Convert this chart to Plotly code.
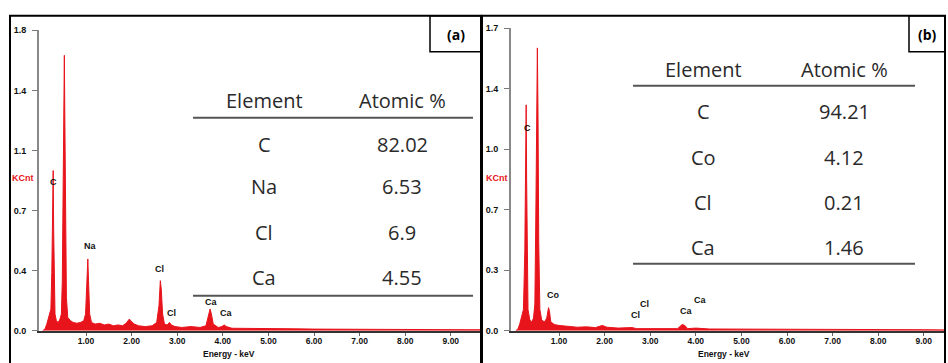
import plotly.graph_objects as go

# ---------------- data ----------------
# EDS spectrum (a): energy (keV) and intensity (KCnt)
energy_a = [0.05, 0.10, 0.14, 0.17, 0.20, 0.23, 0.25, 0.265, 0.28, 0.29, 0.30, 0.32, 0.35, 0.39,
            0.43, 0.46, 0.48, 0.50, 0.515, 0.525, 0.535, 0.55, 0.57, 0.60, 0.66, 0.72, 0.80, 0.88,
            0.95, 0.99, 1.02, 1.04, 1.055, 1.08, 1.12, 1.20, 1.30, 1.40, 1.50, 1.60, 1.70, 1.80,
            1.88, 1.95, 2.00, 2.06, 2.15, 2.30, 2.45, 2.55, 2.60, 2.63, 2.65, 2.68, 2.72, 2.78,
            2.83, 2.87, 2.95, 3.10, 3.30, 3.50, 3.63, 3.68, 3.72, 3.75, 3.79, 3.90, 3.98, 4.03,
            4.08, 4.20, 4.50, 5.00, 5.50, 6.00, 6.50, 7.00, 7.50, 8.00, 8.50, 9.00, 9.66]
counts_a = [0.0, 0.01, 0.04, 0.07, 0.09, 0.13, 0.35, 0.70, 0.96, 0.62, 0.30, 0.10, 0.06, 0.05,
            0.07, 0.10, 0.30, 0.85, 1.45, 1.65, 1.30, 0.60, 0.20, 0.08, 0.06, 0.05, 0.045, 0.05,
            0.06, 0.10, 0.30, 0.43, 0.30, 0.10, 0.05, 0.04, 0.045, 0.035, 0.04, 0.03, 0.035, 0.03,
            0.045, 0.07, 0.055, 0.04, 0.03, 0.025, 0.03, 0.05, 0.15, 0.30, 0.25, 0.10, 0.04, 0.035,
            0.05, 0.035, 0.025, 0.02, 0.025, 0.02, 0.03, 0.08, 0.13, 0.10, 0.04, 0.02, 0.025, 0.035,
            0.025, 0.015, 0.015, 0.012, 0.012, 0.01, 0.01, 0.01, 0.008, 0.008, 0.007, 0.007, 0.006]

# EDS spectrum (b)
energy_b = [0.05, 0.10, 0.14, 0.18, 0.22, 0.25, 0.265, 0.28, 0.29, 0.30, 0.32, 0.36, 0.40, 0.44,
            0.47, 0.49, 0.51, 0.525, 0.54, 0.555, 0.58, 0.62, 0.68, 0.73, 0.77, 0.79, 0.82, 0.90,
            1.00, 1.20, 1.40, 1.60, 1.80, 1.95, 2.05, 2.30, 2.60, 2.70, 3.00, 3.30, 3.60, 3.70,
            3.76, 3.82, 4.00, 4.30, 5.00, 6.00, 7.00, 8.00, 9.00, 9.46]
counts_b = [0.0, 0.01, 0.04, 0.08, 0.12, 0.45, 0.95, 1.27, 0.85, 0.40, 0.12, 0.06, 0.05, 0.07,
            0.15, 0.60, 1.20, 1.59, 1.20, 0.50, 0.12, 0.06, 0.05, 0.07, 0.13, 0.11, 0.05, 0.035,
            0.03, 0.025, 0.02, 0.022, 0.018, 0.03, 0.02, 0.015, 0.018, 0.012, 0.013, 0.01, 0.012, 0.035,
            0.03, 0.012, 0.015, 0.01, 0.01, 0.008, 0.01, 0.006, 0.006, 0.005]

# Peak labels: (text, energy keV, KCnt)
peaks_a = [("C", 0.28, 0.89), ("Na", 1.09, 0.51), ("Cl", 2.62, 0.37),
           ("Cl", 2.87, 0.105), ("Ca", 3.76, 0.17), ("Ca", 4.09, 0.105)]
peaks_b = [("C", 0.30, 1.14), ("Co", 0.87, 0.20), ("Cl", 2.67, 0.087),
           ("Cl", 2.88, 0.153), ("Ca", 3.80, 0.109), ("Ca", 4.11, 0.175)]

# Composition tables
elements_a = ["C", "Na", "Cl", "Ca"]
atomic_a = ["82.02", "6.53", "6.9", "4.55"]
elements_b = ["C", "Co", "Cl", "Ca"]
atomic_b = ["94.21", "4.12", "0.21", "1.46"]

# Axis ticks
x_tickvals = [1, 2, 3, 4, 5, 6, 7, 8, 9]
x_ticktext = ["1.00", "2.00", "3.00", "4.00", "5.00", "6.00", "7.00", "8.00", "9.00"]
y_tickvals_a = [0, 0.36, 0.72, 1.08, 1.44, 1.8]
y_ticktext_a = ["0.0", "0.4", "0.7", "1.1", "1.4", "1.8"]
y_tickvals_b = [0, 0.34, 0.68, 1.02, 1.36, 1.7]
y_ticktext_b = ["0.0", "0.3", "0.7", "1.0", "1.4", "1.7"]

# ---------------- layout helpers ----------------
W, H = 948, 363


def px(x):
    return x / W


def py(y):
    return 1 - y / H


RED = "#e8141c"
TICKFONT = dict(family="Liberation Sans", size=9, color="#111", weight="bold")
XTICKFONT = dict(family="Liberation Sans", size=8.5, color="#111", weight="bold")
TABLEFONT = dict(family="Open Sans", size=20, color="#2a2a2a")

fig = go.Figure()

fig.add_trace(go.Scatter(x=energy_a, y=counts_a, mode="lines", fill="tozeroy",
                         line=dict(color=RED, width=1), fillcolor=RED,
                         xaxis="x", yaxis="y", hoverinfo="skip", showlegend=False))
fig.add_trace(go.Scatter(x=energy_b, y=counts_b, mode="lines", fill="tozeroy",
                         line=dict(color=RED, width=1), fillcolor=RED,
                         xaxis="x2", yaxis="y2", hoverinfo="skip", showlegend=False))

xcommon = dict(tickvals=x_tickvals, ticktext=x_ticktext, tickfont=XTICKFONT,
               showgrid=False, zeroline=False, showline=True, linecolor="#333", linewidth=2,
               ticks="outside", ticklen=3, tickcolor="#666", tickwidth=1,
               ticklabelstandoff=-2)
ycommon = dict(tickfont=TICKFONT, showgrid=False, zeroline=False, showline=True,
               linecolor="#888", linewidth=2, ticks="outside", ticklen=5,
               tickcolor="#777", tickwidth=1, ticklabelstandoff=4)

fig.update_layout(
    width=W, height=H, autosize=False,
    margin=dict(l=0, r=0, t=0, b=0),
    paper_bgcolor="white", plot_bgcolor="white",
    xaxis=dict(domain=[px(39), px(481)], range=[-0.031, 9.662], anchor="y", **xcommon),
    yaxis=dict(domain=[py(335), py(26)], range=[0, 1.8], anchor="x",
               tickvals=y_tickvals_a, ticktext=y_ticktext_a, **ycommon),
    xaxis2=dict(domain=[px(511), px(945)], range=[-0.053, 9.465], anchor="y2", **xcommon),
    yaxis2=dict(domain=[py(335), py(24)], range=[0, 1.7], anchor="x2",
                tickvals=y_tickvals_b, ticktext=y_ticktext_b, **ycommon),
)

shapes = []
annotations = []

# Panel frames and the (a)/(b) tag boxes
for x0, x1 in [(10, 481), (482, 945)]:
    shapes.append(dict(type="rect", xref="paper", yref="paper",
                       x0=px(x0), x1=px(x1), y0=-0.05, y1=py(11),
                       line=dict(color="black", width=2), layer="above"))
for x0, x1, tag in [(430, 481, "(a)"), (909, 945, "(b)")]:
    shapes.append(dict(type="rect", xref="paper", yref="paper",
                       x0=px(x0), x1=px(x1), y0=py(48), y1=py(11),
                       line=dict(color="black", width=1.5), layer="above"))
    annotations.append(dict(text="<b>%s</b>" % tag, xref="paper", yref="paper",
                            x=px((x0 + x1) / 2), y=py(30), showarrow=False,
                            font=dict(family="Open Sans", size=14, color="black"),
                            xanchor="center", yanchor="middle"))


def add_table(elements, values, x_el, x_val, y_head, row_ys, line_x0, line_x1, y_line1, y_line2):
    annotations.append(dict(text="Element", x=px(x_el), y=py(y_head)))
    annotations.append(dict(text="Atomic %", x=px(x_val), y=py(y_head)))
    for el, val, yy in zip(elements, values, row_ys):
        annotations.append(dict(text=el, x=px(x_el), y=py(yy)))
        annotations.append(dict(text=val, x=px(x_val), y=py(yy)))
    for yl in (y_line1, y_line2):
        shapes.append(dict(type="line", xref="paper", yref="paper",
                           x0=px(line_x0), x1=px(line_x1), y0=py(yl), y1=py(yl),
                           line=dict(color="#555", width=2)))


n0 = len(annotations)
add_table(elements_a, atomic_a, 264, 402, 98, [143, 187, 234, 280], 193, 473, 116, 299)
add_table(elements_b, atomic_b, 703, 844, 66, [110, 157, 203, 249], 633, 915, 83, 266)
for a in annotations[n0:]:
    a.update(xref="paper", yref="paper", showarrow=False, font=TABLEFONT,
             xanchor="center", yanchor="middle")

# Peak labels on the spectra
for peaks, xr, yr in [(peaks_a, "x", "y"), (peaks_b, "x2", "y2")]:
    for txt, e, c in peaks:
        annotations.append(dict(text="<b>%s</b>" % txt, x=e, y=c, xref=xr, yref=yr,
                                showarrow=False, xanchor="center", yanchor="middle",
                                font=dict(family="Liberation Sans", size=9, color="#111")))

# Axis captions
for xc in (23, 497):
    annotations.append(dict(text="<b>KCnt</b>", xref="paper", yref="paper", x=px(xc), y=py(178),
                            showarrow=False, xanchor="center", yanchor="middle",
                            font=dict(family="Liberation Sans", size=9, color=RED)))
for xc in (229, 724):
    annotations.append(dict(text="<b>Energy - keV</b>", xref="paper", yref="paper",
                            x=px(xc), y=py(365), showarrow=False, borderpad=0,
                            xanchor="center", yanchor="bottom",
                            font=dict(family="Liberation Sans", size=8.5, color="#111")))

fig.update_layout(shapes=shapes, annotations=annotations)

fig.write_html("out.html")
